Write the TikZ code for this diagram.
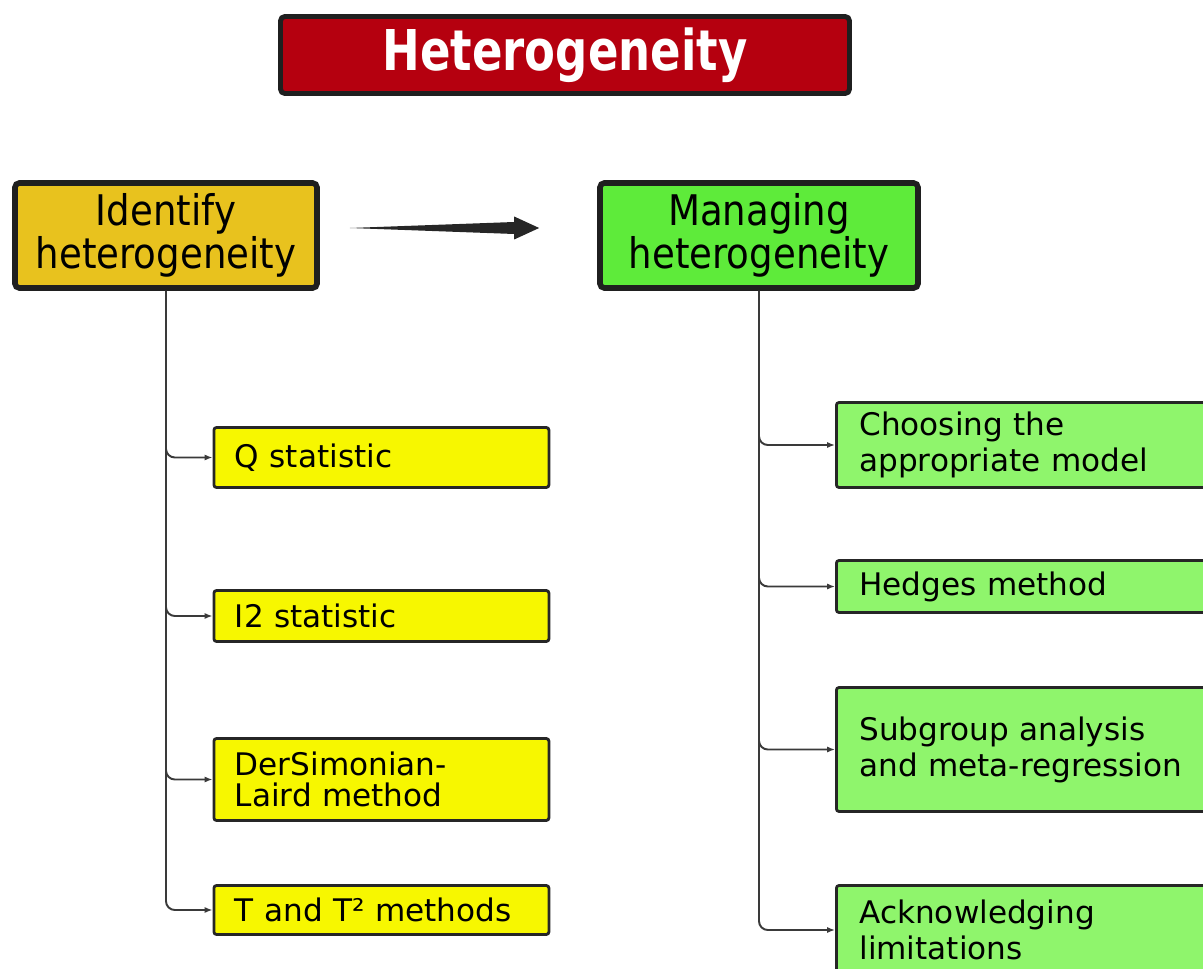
\documentclass[tikz,border=0pt]{standalone}
\usepackage{fontspec}
\setmainfont{DejaVu Sans}
\newfontfamily\headfont[FakeStretch=0.88]{DejaVu Sans}
\newfontfamily\titlefont[FakeStretch=0.8]{DejaVu Sans}
\usetikzlibrary{arrows.meta,calc}
\definecolor{titlered}{HTML}{B5000F}
\definecolor{goldbox}{HTML}{E8C21E}
\definecolor{greenhead}{HTML}{5EEB3A}
\definecolor{yellowbox}{HTML}{F7F700}
\definecolor{greenbox}{HTML}{8FF56C}
\definecolor{linegray}{HTML}{3A3A3A}
\begin{document}
\begin{tikzpicture}[
  titlebox/.style={draw=black!88, line width=2.8pt, rounded corners=2.5pt, fill=titlered,
    text=white, minimum width=11.38cm, minimum height=1.54cm, inner sep=0pt,
    font=\titlefont\bfseries\fontsize{32}{32}\selectfont},
  headbox/.style={draw=black!88, line width=3.2pt, rounded corners=2.5pt, align=center,
    minimum height=2.1cm, inner sep=0pt, font=\headfont\fontsize{24}{23}\selectfont},
  leafbox/.style={draw=black!85, line width=1.6pt, rounded corners=1.5pt, anchor=west,
    align=left, inner ysep=0pt, font=\fontsize{17.7}{17}\selectfont},
  yleaf/.style={leafbox, fill=yellowbox, text width=5.86cm, inner xsep=0.42cm},
  gleaf/.style={leafbox, fill=greenbox, text width=7.1cm, inner xsep=0.46cm,
    font=\fontsize{17.7}{20.5}\selectfont},
  conn/.style={draw=linegray, line width=1.1pt, rounded corners=5pt,
    -{Latex[length=4.5pt,width=3.5pt]}}
]
\clip (0,0) rectangle (24.06,-19.38);
% title
\node[titlebox] (ttl) at (11.30,-1.10) {Heterogeneity};
% the two headers
\node[headbox, fill=goldbox, minimum width=6.04cm] (idf) at (3.32,-4.71) {Identify\\heterogeneity};
\node[headbox, fill=greenhead, minimum width=6.36cm] (mng) at (15.18,-4.71) {Managing\\heterogeneity};
% tapered arrow between headers
\coordinate (arrtail) at ($(idf.east)+(0.6,0.15)$);
\coordinate (arrtip) at ($(mng.west)+(-1.16,0.15)$);
\fill[black!85] (arrtail) -- ($(arrtip)+(-0.5,0.12)$) -- ($(arrtip)+(-0.5,0.23)$) -- (arrtip)
  -- ($(arrtip)+(-0.5,-0.23)$) -- ($(arrtip)+(-0.5,-0.12)$) -- cycle;
% identify branch
\node[yleaf, minimum height=1.2cm] (qst) at (4.25,-9.15) {Q statistic};
\node[yleaf, minimum height=1.02cm] (ist) at (4.25,-12.32) {I2 statistic};
\node[yleaf, minimum height=1.64cm, font=\fontsize{17.7}{17.6}\selectfont] (dsl) at (4.25,-15.59) {DerSimonian-\\Laird method};
\node[yleaf, minimum height=0.98cm] (ttm) at (4.25,-18.20) {T and T² methods};
\foreach \b in {qst,ist,dsl,ttm}
  \draw[conn] (idf.south) |- (\b.west);
% managing branch
\node[gleaf, minimum height=1.70cm] (cho) at (16.70,-8.90) {Choosing the\\appropriate model};
\node[gleaf, minimum height=1.04cm] (hed) at (16.70,-11.73) {Hedges method};
\node[gleaf, minimum height=2.48cm] (sub) at (16.70,-14.99) {Subgroup analysis\\and meta-regression};
\node[gleaf, minimum height=1.78cm] (ack) at (16.70,-18.60) {Acknowledging\\limitations};
\foreach \b in {cho,hed,sub,ack}
  \draw[conn] (mng.south) |- (\b.west);
\end{tikzpicture}
\end{document}
